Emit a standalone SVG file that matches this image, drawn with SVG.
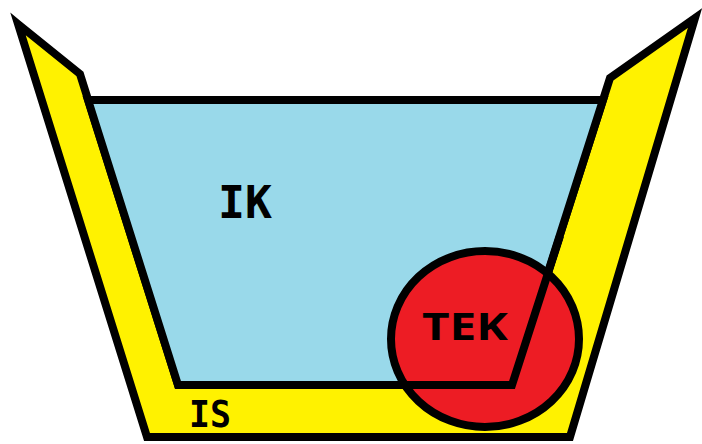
<svg xmlns="http://www.w3.org/2000/svg" width="702" height="444" viewBox="0 0 702 444">
  <style>
    .edge { stroke: #000; stroke-width: 8; stroke-linejoin: miter; stroke-miterlimit: 10; }
    .mono { font-family: "DejaVu Sans Mono", "Liberation Mono", monospace; font-weight: bold; fill: #000; }
    .sans { font-family: "Open Sans", "Noto Sans", sans-serif; font-weight: bold; fill: #000; }
  </style>
  <rect width="702" height="444" fill="#fff"/>
  <!-- yellow outer wall -->
  <polygon class="edge" fill="#FFF200" points="18,24 80,74 178,385 512,385 610,78 695,18 570,437 147,437"/>
  <!-- blue inner basin -->
  <polygon class="edge" fill="#99D9EA" points="88,100 603,100 512,385 178,385"/>
  <!-- red circle -->
  <ellipse class="edge" fill="#ED1C24" cx="485" cy="339" rx="94" ry="88"/>
  <!-- inner edge drawn over the circle -->
  <polyline class="edge" fill="none" points="380,385 512,385 560,236"/>
  <text class="mono" x="218" y="218" font-size="45" textLength="54" lengthAdjust="spacingAndGlyphs">IK</text>
  <text class="mono" x="189" y="427" font-size="37" textLength="42" lengthAdjust="spacingAndGlyphs">IS</text>
  <text class="sans" x="422" y="340" font-size="38" textLength="86" lengthAdjust="spacingAndGlyphs">TEK</text>
</svg>
